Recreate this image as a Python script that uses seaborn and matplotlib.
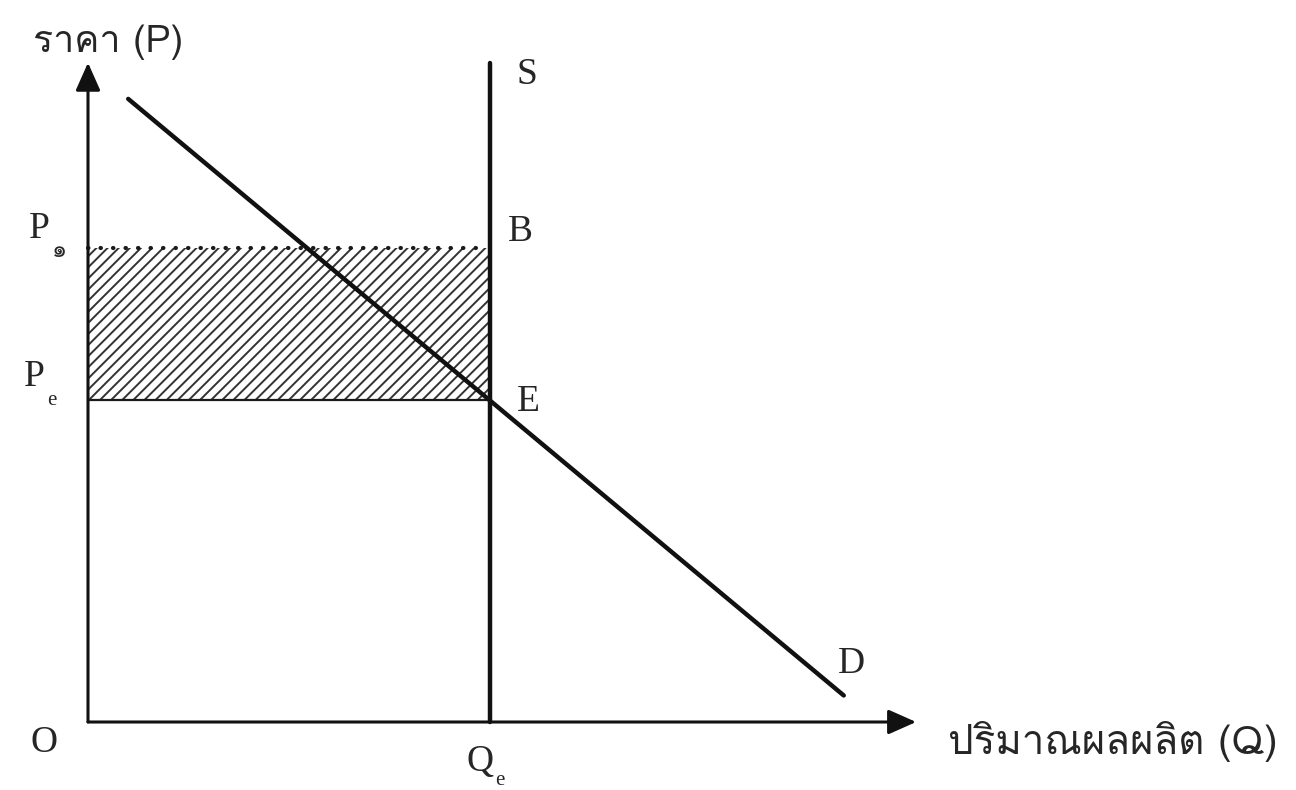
import matplotlib
matplotlib.use("Agg")
import matplotlib.pyplot as plt
from matplotlib import font_manager
from matplotlib.ft2font import FT2Font
import seaborn as sns

# values (same unit on both axes)
q_eq = 5.0
p_eq = 4.0
p_one = 5.9
demand_q = [0.5, 9.4]
demand_p = [7.75, 0.33]
supply_q = [q_eq, q_eq]
supply_p = [0.0, 8.2]
x_axis_end = 10.3
y_axis_end = 8.2

price_label = "ราคา (P)"
qty_label = "ปริมาณผลผลิต (Q)"


def find_thai_font():
    """first installed font that has Thai glyphs"""
    seen = set()
    for f in font_manager.fontManager.ttflist:
        if f.fname in seen:
            continue
        seen.add(f.fname)
        try:
            cmap = FT2Font(f.fname).get_charmap()
        except Exception:
            continue
        if 0x0E32 in cmap and 0x0E1C in cmap:
            return f.name
    return None


sns.set_style("white")
serif = "Liberation Serif"
thai = find_thai_font()
thai_family = [thai, serif] if thai else [serif]
plt.rcParams["font.family"] = [serif, "DejaVu Sans"]
plt.rcParams["hatch.linewidth"] = 1.4

fig = plt.figure(figsize=(12.96, 7.90), dpi=100)
ax = fig.add_axes([0, 0, 1, 1])
# 80.4 px per unit, origin at pixel (88, 722)
ax.set_xlim(-88 / 80.4, (1296 - 88) / 80.4)
ax.set_ylim(-(790 - 722) / 80.4, 722 / 80.4)
ax.set_axis_off()

# shaded rectangle between P1 and Pe
ax.fill_between([0, q_eq], p_eq, p_one, facecolor="none", edgecolor="#333333",
                hatch="///", linewidth=0)
ax.plot([0, q_eq - 0.12], [p_one, p_one], color="#1a1a1a", lw=3.0,
        linestyle=(0, (0.1, 2.9)), dash_capstyle="round")
ax.plot([0, q_eq], [p_eq, p_eq], color="#1a1a1a", lw=1.6)

sns.lineplot(x=supply_q, y=supply_p, ax=ax, color="#111111", lw=3.2, estimator=None, sort=False)
sns.lineplot(x=demand_q, y=demand_p, ax=ax, color="#111111", lw=3.2, estimator=None, sort=False)

# axes with arrow heads
arrow = dict(arrowstyle="-|>,head_length=0.9,head_width=0.4", lw=2.2, color="#111111",
             shrinkA=0, shrinkB=0, mutation_scale=19)
ax.annotate("", xy=(x_axis_end, 0), xytext=(0, 0), arrowprops=arrow)
ax.annotate("", xy=(0, y_axis_end), xytext=(0, 0), arrowprops=arrow)

fs = 27
ax.text(-0.68, 8.46, price_label, fontsize=27, family=thai_family, ha="left", va="center")
ax.text(10.7, -0.24, qty_label, fontsize=29, family=thai_family, ha="left", va="center")
ax.text(5.33, 8.05, "S", fontsize=fs, ha="left", va="center")
ax.text(5.22, 6.1, "B", fontsize=fs, ha="left", va="center")
ax.text(5.33, 3.98, "E", fontsize=fs, ha="left", va="center")
ax.text(9.33, 0.72, "D", fontsize=fs, ha="left", va="center")
ax.text(-0.55, -0.26, "O", fontsize=fs, ha="center", va="center")
ax.text(-0.6, 6.14, "P", fontsize=fs, ha="center", va="center")
ax.text(-0.35, 5.86, "๑", fontsize=17, family=thai_family, ha="center", va="center")
ax.text(-0.67, 4.3, "P", fontsize=fs, ha="center", va="center")
ax.text(-0.45, 4.0, "e", fontsize=15, ha="center", va="center")
ax.text(4.87, -0.5, "Q", fontsize=fs, ha="center", va="center")
ax.text(5.12, -0.73, "e", fontsize=15, ha="center", va="center")

fig.savefig("out.png", dpi=100, facecolor="white")
